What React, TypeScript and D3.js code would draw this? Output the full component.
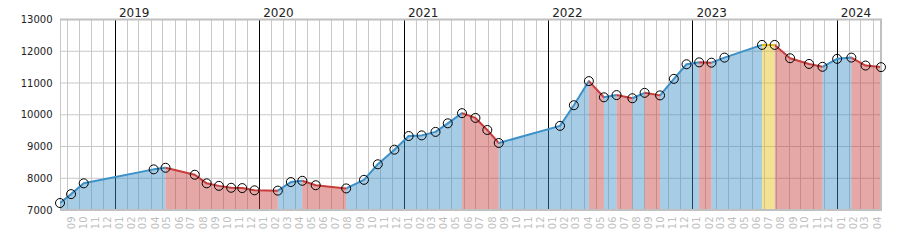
import React from 'react';
import * as d3 from 'd3';

const dates = [
  '2018-08-15', '2018-09-12', '2018-10-14', '2019-04-09', '2019-05-09', '2019-07-22',
  '2019-08-21', '2019-09-21', '2019-10-22', '2019-11-19', '2019-12-20', '2020-02-17',
  '2020-03-21', '2020-04-19', '2020-05-23', '2020-08-08', '2020-09-22', '2020-10-27',
  '2020-12-08', '2021-01-13', '2021-02-15', '2021-03-22', '2021-04-22', '2021-05-28',
  '2021-07-01', '2021-07-31', '2021-08-29', '2022-01-31', '2022-03-07', '2022-04-14',
  '2022-05-22', '2022-06-23', '2022-08-02', '2022-09-02', '2022-10-11', '2022-11-15',
  '2022-12-17', '2023-01-18', '2023-02-18', '2023-03-23', '2023-06-26', '2023-07-28',
  '2023-09-05', '2023-10-23', '2023-11-26', '2024-01-02', '2024-02-07', '2024-03-14',
  '2024-04-22',
];

const values = [
  7220, 7500, 7840, 8280, 8330, 8110,
  7840, 7760, 7700, 7690, 7620, 7610,
  7880, 7920, 7780, 7680, 7950, 8440,
  8900, 9330, 9350, 9460, 9730, 10050,
  9900, 9520, 9110, 9650, 10300, 11060,
  10550, 10620, 10520, 10690, 10610, 11130,
  11590, 11650, 11640, 11800, 12200, 12200,
  11780, 11600, 11510, 11760, 11800, 11550,
  11500,
];

const yTicks = [7000, 8000, 9000, 10000, 11000, 12000, 13000];
const yDomain = [7000, 13000];

const colors = {
  up: '#3c91c8',
  down: '#c83c3c',
  flat: '#e1be14',
};

export default function App() {
  const W = 900;
  const H = 250;
  const left = 60;
  const right = 881;
  const top = 19.5;
  const bottom = 210;

  const parse = d3.utcParse('%Y-%m-%d');
  const ds = dates.map((s) => parse(s) as Date);
  const data = ds.map((d, i) => ({ date: d, v: values[i] }));

  const x = d3.scaleUtc().domain(d3.extent(ds) as [Date, Date]).range([left, right]);
  const y = d3.scaleLinear().domain(yDomain).range([bottom, top]);

  const months = d3.utcMonth.range(ds[0], ds[ds.length - 1]);
  const years = months.filter((m) => m.getUTCMonth() === 0);

  const area = d3
    .area<{ date: Date; v: number }>()
    .x((d) => x(d.date))
    .y0(bottom)
    .y1((d) => y(d.v))
    .curve(d3.curveLinear);
  const line = d3
    .line<{ date: Date; v: number }>()
    .x((d) => x(d.date))
    .y((d) => y(d.v))
    .curve(d3.curveLinear);

  const areaPath = area(data) || '';
  const linePath = line(data) || '';

  type Kind = 'up' | 'down' | 'flat';
  const segs: { kind: Kind; x0: number; x1: number }[] = [];
  for (let i = 0; i < data.length - 1; i++) {
    const a = values[i];
    const b = values[i + 1];
    const kind: Kind = b > a ? 'up' : b < a ? 'down' : 'flat';
    segs.push({ kind, x0: x(ds[i]), x1: x(ds[i + 1]) });
  }
  const kinds: Kind[] = ['up', 'down', 'flat'];

  const font = 'DejaVu Sans, Verdana, sans-serif';

  return (
    <svg
      width={W}
      height={H}
      style={{ position: 'absolute', left: 0, top: 0, background: '#fff' }}
      fontFamily={font}
    >
      <defs>
        {kinds.map((k) => (
          <clipPath id={`clip-${k}`} key={k}>
            {segs
              .filter((s) => s.kind === k)
              .map((s, i) => (
                <rect key={i} x={s.x0} y={0} width={s.x1 - s.x0} height={H} />
              ))}
          </clipPath>
        ))}
      </defs>

      {/* horizontal grid */}
      {yTicks.map((t) => (
        <line key={t} x1={left} x2={right} y1={y(t)} y2={y(t)} stroke="#c8c8c8" strokeWidth={1} />
      ))}
      {/* vertical month grid */}
      {months.map((m, i) => (
        <line
          key={i}
          x1={Math.round(x(m)) + 0.5}
          x2={Math.round(x(m)) + 0.5}
          y1={top}
          y2={bottom}
          stroke={m.getUTCMonth() === 0 ? '#000' : '#c8c8c8'}
          strokeWidth={1}
        />
      ))}
      {/* left border */}
      <line x1={left + 0.5} x2={left + 0.5} y1={top} y2={bottom} stroke="#c8c8c8" strokeWidth={1} />

      {/* areas */}
      {kinds.map((k) => (
        <path
          key={`a-${k}`}
          d={areaPath}
          fill={colors[k]}
          fillOpacity={0.45}
          clipPath={`url(#clip-${k})`}
        />
      ))}
      {/* lines */}
      {kinds.map((k) => (
        <path
          key={`l-${k}`}
          d={linePath}
          fill="none"
          stroke={colors[k]}
          strokeWidth={2}
          strokeLinejoin="round"
          clipPath={`url(#clip-${k})`}
        />
      ))}

      {/* borders */}
      <line x1={left} x2={right + 1} y1={top} y2={top} stroke="#c0c0c0" strokeWidth={2} />
      <line x1={left} x2={right + 1} y1={bottom} y2={bottom} stroke="#c0c0c0" strokeWidth={2} />
      <line x1={right} x2={right} y1={top} y2={bottom} stroke="#c0c0c0" strokeWidth={2} />

      {/* markers */}
      {data.map((d, i) => (
        <circle key={i} cx={x(d.date)} cy={y(d.v)} r={4.5} fill="none" stroke="#000" strokeWidth={1} />
      ))}

      {/* y tick labels */}
      {yTicks.map((t) => (
        <text key={t} x={52.5} y={y(t)} textAnchor="end" dominantBaseline="central" fontSize={10} fill="#222">
          {t}
        </text>
      ))}

      {/* year labels */}
      {years.map((m, i) => (
        <text key={i} x={x(m) + 4} y={16.5} fontSize={12} fill="#222">
          {d3.utcFormat('%Y')(m)}
        </text>
      ))}

      {/* month labels */}
      {months.map((m, i) => (
        <text
          key={i}
          transform={`translate(${x(m) + 4.5},${216.5}) rotate(-90)`}
          textAnchor="end"
          dominantBaseline="central"
          fontSize={10}
          fill="#c0c0c0"
        >
          {d3.utcFormat('%m')(m)}
        </text>
      ))}
    </svg>
  );
}
